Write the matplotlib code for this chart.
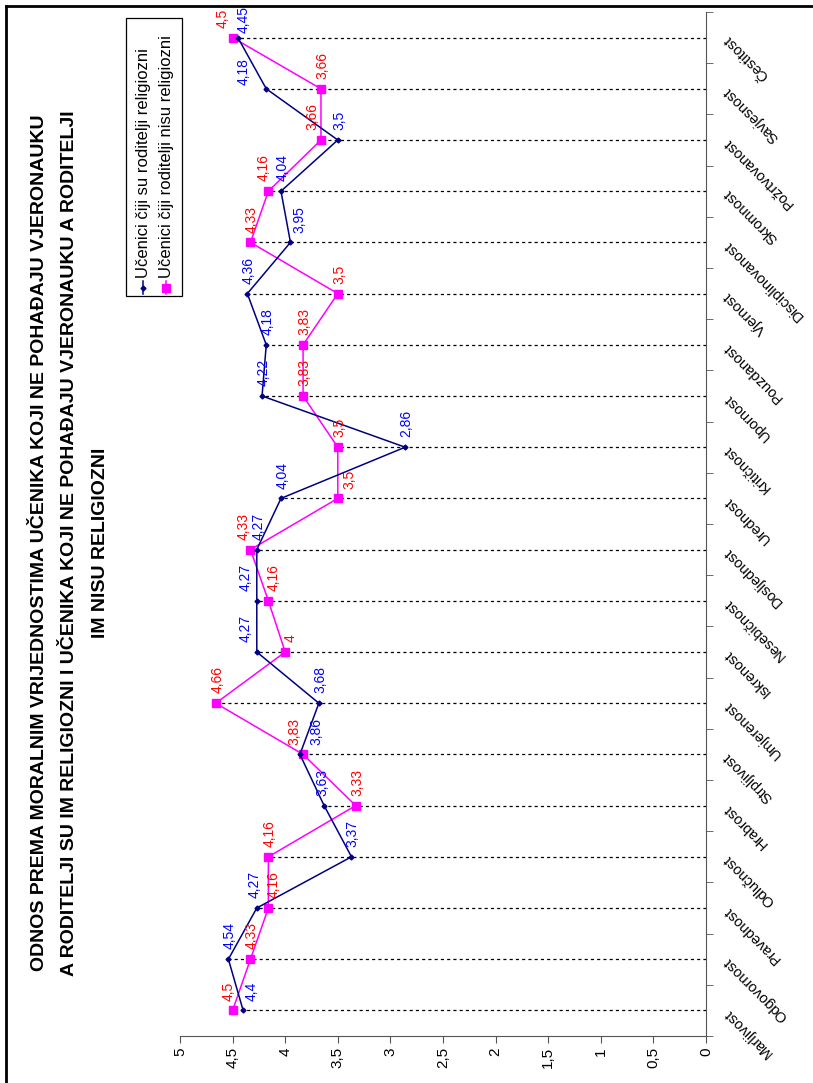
import matplotlib.pyplot as plt
import numpy as np
from matplotlib.ticker import FuncFormatter
from matplotlib.lines import Line2D
from matplotlib.patches import Rectangle

# categories, from the bottom of the chart to the top
kategorije = ["Marljivost", "Odgovornost", "Pravednost", "Odlučnost", "Hrabrost",
              "Strpljivost", "Umjerenost", "Iskrenost", "Nesebičnost", "Dosljednost",
              "Urednost", "Kritičnost", "Upornost", "Pouzdanost", "Vjernost",
              "Disciplinovanost", "Skromnost", "Požrtvovanost", "Savjesnost", "Čestitost"]

religiozni = [4.4, 4.54, 4.27, 3.37, 3.63, 3.86, 3.68, 4.27, 4.27, 4.27,
              4.04, 2.86, 4.22, 4.18, 4.36, 3.95, 4.04, 3.5, 4.18, 4.45]
nereligiozni = [4.5, 4.33, 4.16, 4.16, 3.33, 3.83, 4.66, 4.0, 4.16, 4.33,
                3.5, 3.5, 3.83, 3.83, 3.5, 4.33, 4.16, 3.66, 3.66, 4.5]

naziv_1 = "Učenici čiji su roditelji religiozni"
naziv_2 = "Učenici čiji roditelji nisu religiozni"
naslov = ["ODNOS PREMA MORALNIM VRIJEDNOSTIMA UČENIKA KOJI NE POHAĐAJU VJERONAUKU",
          "A RODITELJI SU IM RELIGIOZNI I UČENIKA KOJI NE POHAĐAJU VJERONAUKU A RODITELJI",
          "IM NISU RELIGIOZNI"]

# hand-moved data labels (pixel shifts: sideways, along), as in the original
pomak_1 = {0: (7, 0), 2: (-4, 0), 5: (15, 0), 7: (-13, 0), 8: (-13, 0), 15: (8, 0),
           18: (-24, -6), 19: (4, -5), 4: (-3, 0)}
pomak_2 = {0: (-5, 0), 2: (4, 0), 5: (-10, 0), 7: (4, 0), 8: (4, 0), 9: (-8, 0), 10: (10, 0),
           16: (-6, 0), 17: (-10, 0), 19: (-11, 0)}

plt.rcParams['font.family'] = ['Liberation Sans', 'DejaVu Sans']

W, H = 813, 1083
fig = plt.figure(figsize=(W / 100, H / 100), dpi=100)


def fx(px):
    return px / W


def fy(py):
    return 1 - py / H


ax = fig.add_axes([fx(180), fy(1036), fx(706) - fx(180), fy(12) - fy(1036)])

y = np.arange(len(kategorije))

# drop lines from the category axis to the farther point
vrh = np.maximum(religiozni, nereligiozni)
ax.hlines(y, 0, vrh, colors='black', linestyles=(0, (2.5, 2.5)), linewidth=0.9, zorder=1)

ax.plot(religiozni, y, color='#000080', linewidth=1.1, marker='D', markersize=2.5, zorder=3)
ax.plot(nereligiozni, y, color='#FF00FF', linewidth=1.1, marker='s', markersize=6, zorder=2)


def fmt(v):
    return f"{v:g}".replace('.', ',')


for vals, col, pomak in [(religiozni, '#0000FF', pomak_1), (nereligiozni, '#FF0000', pomak_2)]:
    for i, v in enumerate(vals):
        dx, dy = pomak.get(i, (0, 0))
        ax.annotate(fmt(v), (v, i), xytext=(1 + dx * 0.72, 7 + dy * 0.72),
                    textcoords='offset points',
                    rotation=90, rotation_mode='anchor', ha='left', va='center',
                    fontsize=10, color=col, zorder=4)

ax.set_xlim(5, 0)
ax.set_ylim(-0.5, len(kategorije) - 0.5)

ax.spines['left'].set_visible(False)
ax.spines['top'].set_visible(False)
ax.spines['right'].set_color('#555555')
ax.spines['bottom'].set_color('#555555')

ax.set_xticks(np.arange(0, 5.01, 0.5))
ax.xaxis.set_major_formatter(FuncFormatter(lambda v, p: fmt(round(v, 1))))
ax.tick_params(axis='x', direction='out', length=5, color='#555555', labelsize=11,
               labelrotation=90, pad=3)

ax.yaxis.tick_right()
ax.set_yticks(y)
ax.set_yticklabels(kategorije, rotation=135, rotation_mode='anchor', ha='right', va='center',
                   fontsize=10.5)
ax.set_yticks(np.arange(-0.5, len(kategorije), 1), minor=True)
ax.tick_params(axis='y', which='major', length=0, pad=14)
ax.tick_params(axis='y', which='minor', direction='out', length=5, color='#555555')

# legend box
fig.patches.append(Rectangle((fx(126), fy(296)), fx(182) - fx(126), fy(18) - fy(296),
                             transform=fig.transFigure, fill=False, edgecolor='black',
                             linewidth=0.9))
for xp, col, mk, ms, txt in [(143, '#000080', 'D', 2.5, naziv_1), (166, '#FF00FF', 's', 6, naziv_2)]:
    fig.lines.append(Line2D([fx(xp), fx(xp)], [fy(294), fy(281)], transform=fig.transFigure,
                            color=col, linewidth=1.1))
    fig.lines.append(Line2D([fx(xp)], [fy(287.5)], transform=fig.transFigure,
                            color=col, marker=mk, markersize=ms))
    fig.text(fx(xp), fy(278), txt, rotation=90, rotation_mode='anchor', ha='left',
             va='center', fontsize=12)

# title
for k, red in enumerate(naslov):
    fig.text(fx(40 + 30 * k), fy(543), red, rotation=90, ha='center', va='center',
             fontsize=14, fontweight='bold',
             family=['Liberation Sans Narrow', 'Liberation Sans', 'DejaVu Sans'])

# outer frame edges
fig.lines.append(Line2D([fx(6), fx(6)], [0, fy(6)], transform=fig.transFigure,
                        color='black', linewidth=2))
fig.lines.append(Line2D([fx(6), 1], [fy(6), fy(6)], transform=fig.transFigure,
                        color='black', linewidth=2))

fig.savefig('out.png', dpi=100)
